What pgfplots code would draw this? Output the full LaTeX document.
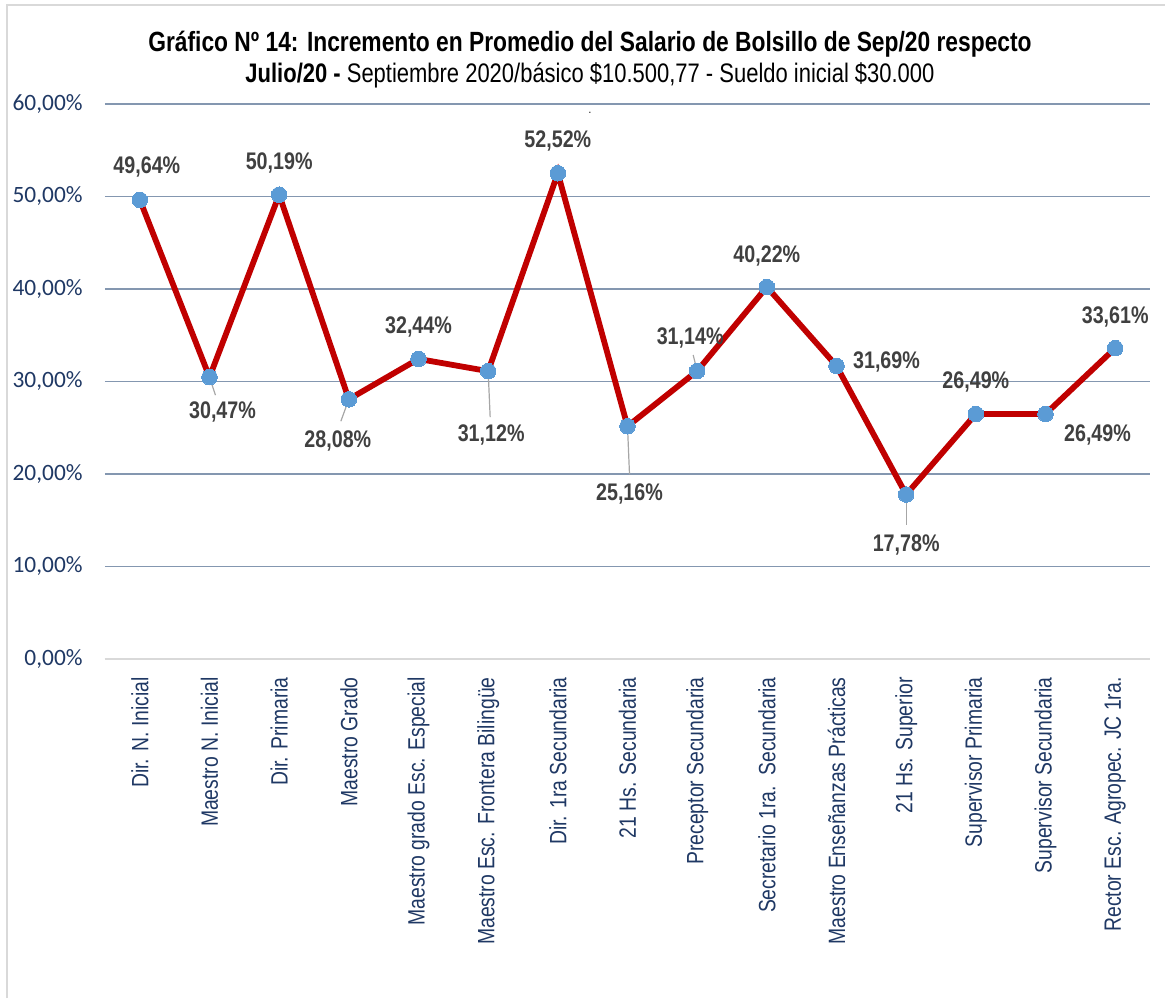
\documentclass[border=0pt]{standalone}
\usepackage{fontspec}
\usepackage{pgfplots}
\pgfplotsset{compat=1.18}
\setmainfont{Liberation Sans}
\newfontfamily\narrow[FakeStretch=0.82]{Liberation Sans}
\newfontfamily\carlito{Carlito}
\definecolor{navy}{HTML}{1F3864}
\definecolor{gridc}{HTML}{8497B0}
\definecolor{linered}{HTML}{C00000}
\definecolor{markblue}{HTML}{5B9BD5}
\definecolor{lblgray}{HTML}{404040}
\definecolor{leader}{HTML}{A6A6A6}
\begin{document}
\begin{tikzpicture}
\path[use as bounding box] (-52.5pt,-169.5pt) rectangle (530pt,329.5pt);
\draw[black!15, line width=1pt] (-49pt,-169.5pt) -- (-49pt,327pt) -- (530pt,327pt);
\begin{axis}[
  at={(0,0)}, anchor=south west,
  scale only axis,
  width=522.5pt, height=277.5pt,
  xmin=-0.5, xmax=14.5, ymin=0, ymax=60,
  axis line style={draw=none},
  major tick length=0pt,
  xtick={0,...,14},
  xticklabels={Dir. N. Inicial, Maestro N. Inicial, Dir. Primaria, Maestro Grado, Maestro grado Esc. Especial, Maestro Esc. Frontera Bilingüe, Dir. 1ra Secundaria, 21 Hs. Secundaria, Preceptor Secundaria, Secretario 1ra.\ \ Secundaria, Maestro Enseñanzas Prácticas, 21 Hs. Superior, Supervisor Primaria, Supervisor Secundaria, Rector Esc. Agropec. JC 1ra.},
  xticklabel style={rotate=90, anchor=east, font=\narrow\fontsize{11.8}{13}\selectfont, text=navy, inner sep=0pt},
  xticklabel shift=9pt,
  ytick={0,10,...,60},
  yticklabels={{0,00\%},{10,00\%},{20,00\%},{30,00\%},{40,00\%},{50,00\%},{60,00\%}},
  yticklabel style={font=\carlito\fontsize{11.7}{13}\selectfont, text=navy, inner sep=0pt},
  yticklabel shift=11pt,
  ymajorgrids, grid style={gridc, line width=0.75pt},
  clip=false,
]
\draw[black!15, line width=0.9pt] (axis cs:-0.5,0) -- (axis cs:14.5,0);
% leader lines
\draw[leader, line width=0.6pt] (axis cs:1,30.47) -- ++(3pt,-9pt);
\draw[leader, line width=0.6pt] (axis cs:3,28.08) -- ++(-4pt,-11pt);
\draw[leader, line width=0.6pt] (axis cs:5,31.12) -- ++(1pt,-23pt);
\draw[leader, line width=0.6pt] (axis cs:7,25.16) -- ++(1pt,-24pt);
\draw[leader, line width=0.6pt] (axis cs:8,31.14) -- ++(-2pt,8pt);
\draw[leader, line width=0.6pt] (axis cs:11,17.78) -- ++(0pt,-15pt);
\addplot[color=linered, line width=2.9pt, mark=*, mark size=3.9pt,
  mark options={fill=markblue, draw=markblue, line width=0pt}]
  coordinates {(0,49.64) (1,30.47) (2,50.19) (3,28.08) (4,32.44) (5,31.12) (6,52.52) (7,25.16) (8,31.14) (9,40.22) (10,31.69) (11,17.78) (12,26.49) (13,26.49) (14,33.61)};
\tikzset{dl/.style={font=\narrow\bfseries\fontsize{12}{14}\selectfont, text=lblgray, inner sep=0pt}}
\node[dl] at ([shift={(3.5pt,16.5pt)}]axis cs:0,49.64) {49,64\%};
\node[dl] at ([shift={(6.5pt,-17.5pt)}]axis cs:1,30.47) {30,47\%};
\node[dl] at ([shift={(0pt,16pt)}]axis cs:2,50.19) {50,19\%};
\node[dl] at ([shift={(-5.5pt,-21pt)}]axis cs:3,28.08) {28,08\%};
\node[dl] at ([shift={(0pt,16pt)}]axis cs:4,32.44) {32,44\%};
\node[dl] at ([shift={(1.5pt,-32pt)}]axis cs:5,31.12) {31,12\%};
\node[dl] at ([shift={(0pt,16pt)}]axis cs:6,52.52) {52,52\%};
\node[dl] at ([shift={(1pt,-34pt)}]axis cs:7,25.16) {25,16\%};
\node[dl] at ([shift={(-3.5pt,16.5pt)}]axis cs:8,31.14) {31,14\%};
\node[dl] at ([shift={(0pt,15.5pt)}]axis cs:9,40.22) {40,22\%};
\node[dl] at ([shift={(25pt,2pt)}]axis cs:10,31.69) {31,69\%};
\node[dl] at ([shift={(0pt,-25pt)}]axis cs:11,17.78) {17,78\%};
\node[dl] at ([shift={(0pt,16pt)}]axis cs:12,26.49) {26,49\%};
\node[dl] at ([shift={(26pt,-10.5pt)}]axis cs:13,26.49) {26,49\%};
\node[dl] at ([shift={(0pt,15.5pt)}]axis cs:14,33.61) {33,61\%};
\end{axis}
\node[font=\narrow\bfseries\fontsize{13.9}{16}\selectfont] at (242.5pt,307.5pt) {Gráfico Nº 14: Incremento en Promedio del Salario de Bolsillo de Sep/20 respecto};
\node[font=\narrow\fontsize{13.4}{16}\selectfont] at (242.5pt,292pt) {\textbf{Julio/20 -} Septiembre 2020/básico \$10.500,77 - Sueldo inicial \$30.000};
\node[font=\narrow\fontsize{6}{7}\selectfont, inner sep=0pt] at (242.5pt,273pt) {.};
\end{tikzpicture}
\end{document}
